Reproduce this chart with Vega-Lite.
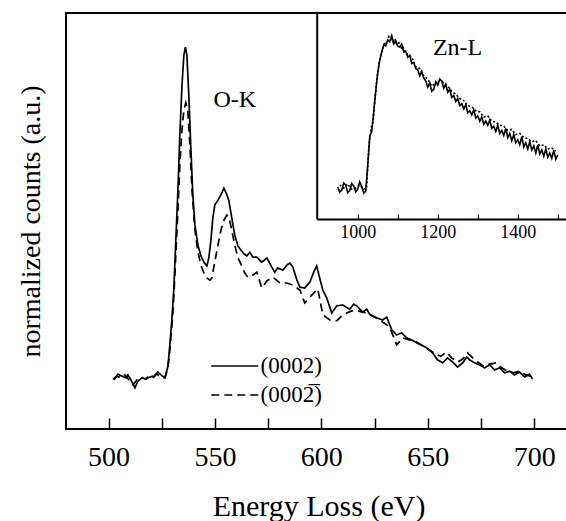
{
  "$schema": "https://vega.github.io/schema/vega-lite/v6.json",
  "width": 505,
  "height": 416,
  "autosize": {"type": "none"},
  "padding": {"left": 66, "top": 13, "right": 0, "bottom": 92},
  "background": "white",
  "config": {
    "font": "Liberation Serif",
    "view": {"stroke": "black", "strokeWidth": 2},
    "axis": {
      "grid": false,
      "domainColor": "black",
      "tickColor": "black",
      "labelColor": "black",
      "titleColor": "black",
      "labelFont": "Liberation Serif",
      "titleFont": "Liberation Serif",
      "titleFontWeight": "normal"
    },
    "legend": {
      "orient": "none",
      "legendX": 155.75,
      "legendY": 340,
      "padding": 0,
      "rowPadding": 4,
      "symbolType": "M-2,0H2",
      "symbolSize": 552,
      "symbolStrokeWidth": 1.6,
      "symbolStrokeColor": "black",
      "symbolFillColor": "transparent",
      "labelFont": "Liberation Serif",
      "labelFontSize": 23,
      "labelColor": "black",
      "labelOffset": 12.75
    }
  },
  "datasets": {
    "main": [
      {"E": 502.5, "v": 11.8, "s": "(0002)"},
      {"E": 504.4, "v": 13.2, "s": "(0002)"},
      {"E": 506.3, "v": 12.7, "s": "(0002)"},
      {"E": 508.2, "v": 12.3, "s": "(0002)"},
      {"E": 509.1, "v": 13.0, "s": "(0002)"},
      {"E": 510.5, "v": 11.8, "s": "(0002)"},
      {"E": 512.4, "v": 9.9, "s": "(0002)"},
      {"E": 513.8, "v": 11.5, "s": "(0002)"},
      {"E": 515.7, "v": 12.3, "s": "(0002)"},
      {"E": 517.6, "v": 12.0, "s": "(0002)"},
      {"E": 519.4, "v": 12.5, "s": "(0002)"},
      {"E": 521.3, "v": 12.7, "s": "(0002)"},
      {"E": 523.2, "v": 13.7, "s": "(0002)"},
      {"E": 524.6, "v": 13.0, "s": "(0002)"},
      {"E": 526.5, "v": 12.3, "s": "(0002)"},
      {"E": 527.9, "v": 15.1, "s": "(0002)"},
      {"E": 528.8, "v": 20.2, "s": "(0002)"},
      {"E": 529.8, "v": 26.7, "s": "(0002)"},
      {"E": 530.7, "v": 33.9, "s": "(0002)"},
      {"E": 531.6, "v": 45.4, "s": "(0002)"},
      {"E": 532.6, "v": 57.5, "s": "(0002)"},
      {"E": 533.5, "v": 70.7, "s": "(0002)"},
      {"E": 534.5, "v": 82.7, "s": "(0002)"},
      {"E": 535.4, "v": 89.9, "s": "(0002)"},
      {"E": 536.1, "v": 91.8, "s": "(0002)"},
      {"E": 536.8, "v": 89.9, "s": "(0002)"},
      {"E": 537.7, "v": 80.3, "s": "(0002)"},
      {"E": 538.7, "v": 67.1, "s": "(0002)"},
      {"E": 539.6, "v": 56.3, "s": "(0002)"},
      {"E": 540.6, "v": 49.0, "s": "(0002)"},
      {"E": 542.0, "v": 44.2, "s": "(0002)"},
      {"E": 543.4, "v": 41.6, "s": "(0002)"},
      {"E": 544.8, "v": 40.1, "s": "(0002)"},
      {"E": 546.2, "v": 39.2, "s": "(0002)"},
      {"E": 547.1, "v": 41.1, "s": "(0002)"},
      {"E": 548.1, "v": 45.4, "s": "(0002)"},
      {"E": 549.0, "v": 50.7, "s": "(0002)"},
      {"E": 549.9, "v": 53.8, "s": "(0002)"},
      {"E": 551.4, "v": 55.0, "s": "(0002)"},
      {"E": 552.8, "v": 56.3, "s": "(0002)"},
      {"E": 554.2, "v": 57.9, "s": "(0002)"},
      {"E": 555.6, "v": 56.3, "s": "(0002)"},
      {"E": 556.5, "v": 55.0, "s": "(0002)"},
      {"E": 557.9, "v": 50.7, "s": "(0002)"},
      {"E": 559.3, "v": 46.6, "s": "(0002)"},
      {"E": 560.8, "v": 44.0, "s": "(0002)"},
      {"E": 562.2, "v": 43.0, "s": "(0002)"},
      {"E": 563.6, "v": 42.1, "s": "(0002)"},
      {"E": 565.0, "v": 41.6, "s": "(0002)"},
      {"E": 566.4, "v": 42.5, "s": "(0002)"},
      {"E": 567.8, "v": 41.3, "s": "(0002)"},
      {"E": 569.7, "v": 41.3, "s": "(0002)"},
      {"E": 572.0, "v": 40.1, "s": "(0002)"},
      {"E": 574.4, "v": 41.1, "s": "(0002)"},
      {"E": 576.7, "v": 38.9, "s": "(0002)"},
      {"E": 578.1, "v": 37.7, "s": "(0002)"},
      {"E": 579.5, "v": 38.7, "s": "(0002)"},
      {"E": 581.9, "v": 38.2, "s": "(0002)"},
      {"E": 583.8, "v": 39.4, "s": "(0002)"},
      {"E": 585.2, "v": 39.9, "s": "(0002)"},
      {"E": 586.6, "v": 38.9, "s": "(0002)"},
      {"E": 588.5, "v": 35.8, "s": "(0002)"},
      {"E": 589.9, "v": 34.1, "s": "(0002)"},
      {"E": 592.2, "v": 33.9, "s": "(0002)"},
      {"E": 594.6, "v": 35.3, "s": "(0002)"},
      {"E": 596.4, "v": 37.7, "s": "(0002)"},
      {"E": 597.8, "v": 39.2, "s": "(0002)"},
      {"E": 599.2, "v": 36.3, "s": "(0002)"},
      {"E": 600.7, "v": 33.4, "s": "(0002)"},
      {"E": 602.5, "v": 31.5, "s": "(0002)"},
      {"E": 604.9, "v": 27.9, "s": "(0002)"},
      {"E": 607.2, "v": 29.6, "s": "(0002)"},
      {"E": 610.0, "v": 29.8, "s": "(0002)"},
      {"E": 613.3, "v": 28.8, "s": "(0002)"},
      {"E": 615.2, "v": 30.0, "s": "(0002)"},
      {"E": 616.6, "v": 29.6, "s": "(0002)"},
      {"E": 619.4, "v": 28.1, "s": "(0002)"},
      {"E": 621.3, "v": 28.8, "s": "(0002)"},
      {"E": 622.7, "v": 27.6, "s": "(0002)"},
      {"E": 626.0, "v": 26.7, "s": "(0002)"},
      {"E": 628.8, "v": 26.2, "s": "(0002)"},
      {"E": 630.7, "v": 26.9, "s": "(0002)"},
      {"E": 633.1, "v": 23.8, "s": "(0002)"},
      {"E": 635.4, "v": 22.6, "s": "(0002)"},
      {"E": 637.7, "v": 23.1, "s": "(0002)"},
      {"E": 640.1, "v": 21.9, "s": "(0002)"},
      {"E": 642.4, "v": 21.4, "s": "(0002)"},
      {"E": 644.8, "v": 20.7, "s": "(0002)"},
      {"E": 647.1, "v": 20.2, "s": "(0002)"},
      {"E": 649.5, "v": 19.5, "s": "(0002)"},
      {"E": 652.3, "v": 18.3, "s": "(0002)"},
      {"E": 654.6, "v": 16.6, "s": "(0002)"},
      {"E": 657.0, "v": 15.9, "s": "(0002)"},
      {"E": 659.3, "v": 17.1, "s": "(0002)"},
      {"E": 661.7, "v": 16.1, "s": "(0002)"},
      {"E": 664.0, "v": 14.9, "s": "(0002)"},
      {"E": 666.4, "v": 15.9, "s": "(0002)"},
      {"E": 668.3, "v": 17.3, "s": "(0002)"},
      {"E": 669.7, "v": 16.6, "s": "(0002)"},
      {"E": 672.0, "v": 15.9, "s": "(0002)"},
      {"E": 674.4, "v": 15.4, "s": "(0002)"},
      {"E": 676.7, "v": 14.7, "s": "(0002)"},
      {"E": 679.1, "v": 15.4, "s": "(0002)"},
      {"E": 681.4, "v": 14.2, "s": "(0002)"},
      {"E": 683.8, "v": 14.7, "s": "(0002)"},
      {"E": 686.1, "v": 13.5, "s": "(0002)"},
      {"E": 688.5, "v": 13.9, "s": "(0002)"},
      {"E": 690.8, "v": 13.0, "s": "(0002)"},
      {"E": 693.1, "v": 13.7, "s": "(0002)"},
      {"E": 695.5, "v": 12.5, "s": "(0002)"},
      {"E": 697.8, "v": 13.2, "s": "(0002)"},
      {"E": 699.2, "v": 12.0, "s": "(0002)"},
      {"E": 502.1, "v": 12.0, "s": "(0002\u0305)"},
      {"E": 503.9, "v": 12.7, "s": "(0002\u0305)"},
      {"E": 505.8, "v": 12.3, "s": "(0002\u0305)"},
      {"E": 507.7, "v": 13.0, "s": "(0002\u0305)"},
      {"E": 509.6, "v": 11.8, "s": "(0002\u0305)"},
      {"E": 511.5, "v": 10.6, "s": "(0002\u0305)"},
      {"E": 513.3, "v": 11.8, "s": "(0002\u0305)"},
      {"E": 515.2, "v": 12.5, "s": "(0002\u0305)"},
      {"E": 517.1, "v": 12.0, "s": "(0002\u0305)"},
      {"E": 519.0, "v": 12.7, "s": "(0002\u0305)"},
      {"E": 520.8, "v": 12.3, "s": "(0002\u0305)"},
      {"E": 522.7, "v": 13.2, "s": "(0002\u0305)"},
      {"E": 524.6, "v": 12.5, "s": "(0002\u0305)"},
      {"E": 526.5, "v": 12.3, "s": "(0002\u0305)"},
      {"E": 527.9, "v": 14.7, "s": "(0002\u0305)"},
      {"E": 528.8, "v": 19.0, "s": "(0002\u0305)"},
      {"E": 529.8, "v": 25.0, "s": "(0002\u0305)"},
      {"E": 530.7, "v": 32.2, "s": "(0002\u0305)"},
      {"E": 531.6, "v": 41.8, "s": "(0002\u0305)"},
      {"E": 532.6, "v": 52.6, "s": "(0002\u0305)"},
      {"E": 533.5, "v": 63.5, "s": "(0002\u0305)"},
      {"E": 534.5, "v": 71.9, "s": "(0002\u0305)"},
      {"E": 535.4, "v": 76.7, "s": "(0002\u0305)"},
      {"E": 536.3, "v": 78.4, "s": "(0002\u0305)"},
      {"E": 537.2, "v": 76.7, "s": "(0002\u0305)"},
      {"E": 538.2, "v": 68.3, "s": "(0002\u0305)"},
      {"E": 539.2, "v": 57.5, "s": "(0002\u0305)"},
      {"E": 540.6, "v": 47.8, "s": "(0002\u0305)"},
      {"E": 542.0, "v": 42.5, "s": "(0002\u0305)"},
      {"E": 543.4, "v": 39.4, "s": "(0002\u0305)"},
      {"E": 544.8, "v": 37.5, "s": "(0002\u0305)"},
      {"E": 546.2, "v": 36.3, "s": "(0002\u0305)"},
      {"E": 547.6, "v": 35.8, "s": "(0002\u0305)"},
      {"E": 548.5, "v": 36.3, "s": "(0002\u0305)"},
      {"E": 549.9, "v": 40.1, "s": "(0002\u0305)"},
      {"E": 551.4, "v": 44.2, "s": "(0002\u0305)"},
      {"E": 552.8, "v": 47.8, "s": "(0002\u0305)"},
      {"E": 554.2, "v": 50.2, "s": "(0002\u0305)"},
      {"E": 555.6, "v": 51.4, "s": "(0002\u0305)"},
      {"E": 556.5, "v": 51.0, "s": "(0002\u0305)"},
      {"E": 557.9, "v": 47.8, "s": "(0002\u0305)"},
      {"E": 559.3, "v": 44.2, "s": "(0002\u0305)"},
      {"E": 560.8, "v": 41.1, "s": "(0002\u0305)"},
      {"E": 562.6, "v": 39.2, "s": "(0002\u0305)"},
      {"E": 564.0, "v": 37.5, "s": "(0002\u0305)"},
      {"E": 565.4, "v": 36.5, "s": "(0002\u0305)"},
      {"E": 567.3, "v": 36.8, "s": "(0002\u0305)"},
      {"E": 569.7, "v": 37.7, "s": "(0002\u0305)"},
      {"E": 572.0, "v": 33.9, "s": "(0002\u0305)"},
      {"E": 574.4, "v": 35.6, "s": "(0002\u0305)"},
      {"E": 577.2, "v": 36.5, "s": "(0002\u0305)"},
      {"E": 580.5, "v": 35.1, "s": "(0002\u0305)"},
      {"E": 583.8, "v": 35.1, "s": "(0002\u0305)"},
      {"E": 586.6, "v": 34.6, "s": "(0002\u0305)"},
      {"E": 589.9, "v": 33.4, "s": "(0002\u0305)"},
      {"E": 592.2, "v": 30.3, "s": "(0002\u0305)"},
      {"E": 595.5, "v": 32.2, "s": "(0002\u0305)"},
      {"E": 598.3, "v": 33.7, "s": "(0002\u0305)"},
      {"E": 600.7, "v": 27.4, "s": "(0002\u0305)"},
      {"E": 604.0, "v": 26.2, "s": "(0002\u0305)"},
      {"E": 607.2, "v": 26.0, "s": "(0002\u0305)"},
      {"E": 609.6, "v": 27.2, "s": "(0002\u0305)"},
      {"E": 611.9, "v": 27.9, "s": "(0002\u0305)"},
      {"E": 614.3, "v": 28.4, "s": "(0002\u0305)"},
      {"E": 616.6, "v": 28.6, "s": "(0002\u0305)"},
      {"E": 619.0, "v": 28.1, "s": "(0002\u0305)"},
      {"E": 621.3, "v": 27.9, "s": "(0002\u0305)"},
      {"E": 623.7, "v": 27.2, "s": "(0002\u0305)"},
      {"E": 626.0, "v": 26.7, "s": "(0002\u0305)"},
      {"E": 628.8, "v": 25.7, "s": "(0002\u0305)"},
      {"E": 632.1, "v": 24.5, "s": "(0002\u0305)"},
      {"E": 635.4, "v": 20.2, "s": "(0002\u0305)"},
      {"E": 638.2, "v": 21.9, "s": "(0002\u0305)"},
      {"E": 641.5, "v": 21.4, "s": "(0002\u0305)"},
      {"E": 644.8, "v": 20.9, "s": "(0002\u0305)"},
      {"E": 648.1, "v": 19.7, "s": "(0002\u0305)"},
      {"E": 650.9, "v": 19.0, "s": "(0002\u0305)"},
      {"E": 653.7, "v": 18.0, "s": "(0002\u0305)"},
      {"E": 656.1, "v": 17.5, "s": "(0002\u0305)"},
      {"E": 658.9, "v": 18.5, "s": "(0002\u0305)"},
      {"E": 661.2, "v": 17.1, "s": "(0002\u0305)"},
      {"E": 664.0, "v": 16.1, "s": "(0002\u0305)"},
      {"E": 666.4, "v": 16.8, "s": "(0002\u0305)"},
      {"E": 668.7, "v": 18.3, "s": "(0002\u0305)"},
      {"E": 671.1, "v": 17.1, "s": "(0002\u0305)"},
      {"E": 673.4, "v": 16.1, "s": "(0002\u0305)"},
      {"E": 676.2, "v": 15.1, "s": "(0002\u0305)"},
      {"E": 679.1, "v": 15.6, "s": "(0002\u0305)"},
      {"E": 682.3, "v": 15.9, "s": "(0002\u0305)"},
      {"E": 684.7, "v": 14.7, "s": "(0002\u0305)"},
      {"E": 687.5, "v": 13.9, "s": "(0002\u0305)"},
      {"E": 690.3, "v": 13.5, "s": "(0002\u0305)"},
      {"E": 693.1, "v": 13.9, "s": "(0002\u0305)"},
      {"E": 696.0, "v": 13.0, "s": "(0002\u0305)"},
      {"E": 698.3, "v": 12.7, "s": "(0002\u0305)"}
    ],
    "inset": [
      {"E": 950, "v": 15.5, "s": "a"}, {"E": 955, "v": 13.0, "s": "a"}, {"E": 960, "v": 14.0, "s": "a"}, {"E": 965, "v": 17.5, "s": "a"}, {"E": 970, "v": 16.5, "s": "a"},
      {"E": 975, "v": 12.8, "s": "a"}, {"E": 980, "v": 13.8, "s": "a"}, {"E": 985, "v": 17.2, "s": "a"}, {"E": 990, "v": 16.0, "s": "a"}, {"E": 995, "v": 13.2, "s": "a"}, {"E": 1000, "v": 14.5, "s": "a"},
      {"E": 1005, "v": 18.0, "s": "a"}, {"E": 1010, "v": 15.8, "s": "a"}, {"E": 1015, "v": 12.5, "s": "a"}, {"E": 1020, "v": 13.5, "s": "a"}, {"E": 1025, "v": 26, "s": "a"},
      {"E": 1030, "v": 40, "s": "a"}, {"E": 1035, "v": 42.5, "s": "a"}, {"E": 1040, "v": 52, "s": "a"},
      {"E": 1045, "v": 62, "s": "a"}, {"E": 1050, "v": 71, "s": "a"}, {"E": 1055, "v": 77, "s": "a"},
      {"E": 1060, "v": 81, "s": "a"}, {"E": 1065, "v": 84.5, "s": "a"}, {"E": 1070, "v": 84, "s": "a"},
      {"E": 1075, "v": 87, "s": "a"}, {"E": 1080, "v": 86, "s": "a"}, {"E": 1085, "v": 89, "s": "a"},
      {"E": 1090, "v": 85, "s": "a"}, {"E": 1095, "v": 86.5, "s": "a"}, {"E": 1100, "v": 84, "s": "a"},
      {"E": 1105, "v": 83.5, "s": "a"}, {"E": 1110, "v": 85, "s": "a"}, {"E": 1115, "v": 81, "s": "a"},
      {"E": 1120, "v": 81.5, "s": "a"}, {"E": 1125, "v": 78.5, "s": "a"}, {"E": 1130, "v": 79.5, "s": "a"}, {"E": 1135, "v": 75.5, "s": "a"}, {"E": 1140, "v": 76, "s": "a"},
      {"E": 1145, "v": 73.0, "s": "a"}, {"E": 1150, "v": 72.5, "s": "a"}, {"E": 1155, "v": 69.5, "s": "a"}, {"E": 1160, "v": 71.5, "s": "a"}, {"E": 1165, "v": 68.5, "s": "a"}, {"E": 1170, "v": 67, "s": "a"},
      {"E": 1175, "v": 64.0, "s": "a"}, {"E": 1180, "v": 66, "s": "a"}, {"E": 1185, "v": 62.0, "s": "a"}, {"E": 1190, "v": 63, "s": "a"}, {"E": 1195, "v": 66.5, "s": "a"}, {"E": 1200, "v": 65, "s": "a"},
      {"E": 1205, "v": 68.0, "s": "a"}, {"E": 1210, "v": 67, "s": "a"}, {"E": 1215, "v": 63.5, "s": "a"}, {"E": 1220, "v": 65.5, "s": "a"}, {"E": 1225, "v": 61.5, "s": "a"}, {"E": 1230, "v": 63, "s": "a"},
      {"E": 1235, "v": 59.0, "s": "a"}, {"E": 1240, "v": 60, "s": "a"}, {"E": 1245, "v": 57.0, "s": "a"}, {"E": 1250, "v": 58.5, "s": "a"}, {"E": 1255, "v": 55.0, "s": "a"}, {"E": 1260, "v": 56, "s": "a"},
      {"E": 1265, "v": 53.5, "s": "a"}, {"E": 1270, "v": 55.5, "s": "a"}, {"E": 1275, "v": 51.5, "s": "a"}, {"E": 1280, "v": 52.5, "s": "a"}, {"E": 1285, "v": 50.5, "s": "a"}, {"E": 1290, "v": 53, "s": "a"},
      {"E": 1295, "v": 49.0, "s": "a"}, {"E": 1300, "v": 50, "s": "a"}, {"E": 1305, "v": 47.5, "s": "a"}, {"E": 1310, "v": 49.5, "s": "a"}, {"E": 1315, "v": 46.0, "s": "a"}, {"E": 1320, "v": 47.5, "s": "a"},
      {"E": 1325, "v": 45.5, "s": "a"}, {"E": 1330, "v": 48, "s": "a"}, {"E": 1335, "v": 44.0, "s": "a"}, {"E": 1340, "v": 45, "s": "a"}, {"E": 1345, "v": 42.5, "s": "a"}, {"E": 1350, "v": 45.5, "s": "a"},
      {"E": 1355, "v": 41.5, "s": "a"}, {"E": 1360, "v": 43, "s": "a"}, {"E": 1365, "v": 40.5, "s": "a"}, {"E": 1370, "v": 44, "s": "a"}, {"E": 1375, "v": 39.5, "s": "a"}, {"E": 1380, "v": 41.5, "s": "a"},
      {"E": 1385, "v": 38.0, "s": "a"}, {"E": 1390, "v": 41, "s": "a"}, {"E": 1395, "v": 37.0, "s": "a"}, {"E": 1400, "v": 38.5, "s": "a"}, {"E": 1405, "v": 36.0, "s": "a"}, {"E": 1410, "v": 40, "s": "a"},
      {"E": 1415, "v": 35.0, "s": "a"}, {"E": 1420, "v": 37, "s": "a"}, {"E": 1425, "v": 34.0, "s": "a"}, {"E": 1430, "v": 37.5, "s": "a"}, {"E": 1435, "v": 33.5, "s": "a"}, {"E": 1440, "v": 35.5, "s": "a"},
      {"E": 1445, "v": 32.0, "s": "a"}, {"E": 1450, "v": 36, "s": "a"}, {"E": 1455, "v": 31.5, "s": "a"}, {"E": 1460, "v": 33.5, "s": "a"}, {"E": 1465, "v": 30.5, "s": "a"}, {"E": 1470, "v": 34, "s": "a"},
      {"E": 1475, "v": 30.0, "s": "a"}, {"E": 1480, "v": 32, "s": "a"}, {"E": 1485, "v": 29.5, "s": "a"}, {"E": 1490, "v": 33.5, "s": "a"}, {"E": 1495, "v": 29.0, "s": "a"}, {"E": 1500, "v": 31, "s": "a"},
      {"E": 955, "v": 16.5, "s": "b"}, {"E": 965, "v": 15, "s": "b"}, {"E": 975, "v": 17, "s": "b"},
      {"E": 985, "v": 14.5, "s": "b"}, {"E": 995, "v": 15, "s": "b"}, {"E": 1005, "v": 16.5, "s": "b"},
      {"E": 1015, "v": 14.5, "s": "b"}, {"E": 1022, "v": 15, "s": "b"}, {"E": 1028, "v": 35, "s": "b"},
      {"E": 1033, "v": 44, "s": "b"}, {"E": 1038, "v": 47, "s": "b"}, {"E": 1043, "v": 58, "s": "b"},
      {"E": 1048, "v": 68, "s": "b"}, {"E": 1053, "v": 75, "s": "b"}, {"E": 1058, "v": 80, "s": "b"},
      {"E": 1063, "v": 83, "s": "b"}, {"E": 1068, "v": 86, "s": "b"}, {"E": 1073, "v": 85, "s": "b"},
      {"E": 1078, "v": 88.5, "s": "b"}, {"E": 1083, "v": 87, "s": "b"}, {"E": 1088, "v": 86, "s": "b"},
      {"E": 1093, "v": 87.5, "s": "b"}, {"E": 1098, "v": 84.5, "s": "b"}, {"E": 1103, "v": 85.5, "s": "b"},
      {"E": 1108, "v": 82.5, "s": "b"}, {"E": 1113, "v": 84, "s": "b"}, {"E": 1118, "v": 80.5, "s": "b"},
      {"E": 1125, "v": 80, "s": "b"}, {"E": 1135, "v": 78.5, "s": "b"}, {"E": 1145, "v": 74, "s": "b"},
      {"E": 1155, "v": 73, "s": "b"}, {"E": 1165, "v": 69.5, "s": "b"}, {"E": 1175, "v": 68, "s": "b"},
      {"E": 1185, "v": 64.5, "s": "b"}, {"E": 1195, "v": 66, "s": "b"}, {"E": 1205, "v": 67.5, "s": "b"},
      {"E": 1215, "v": 66, "s": "b"}, {"E": 1225, "v": 64.5, "s": "b"}, {"E": 1235, "v": 62, "s": "b"},
      {"E": 1245, "v": 60.5, "s": "b"}, {"E": 1255, "v": 58.5, "s": "b"}, {"E": 1265, "v": 57.5, "s": "b"},
      {"E": 1275, "v": 55, "s": "b"}, {"E": 1285, "v": 54.5, "s": "b"}, {"E": 1295, "v": 52.5, "s": "b"},
      {"E": 1305, "v": 52, "s": "b"}, {"E": 1315, "v": 49.5, "s": "b"}, {"E": 1325, "v": 50, "s": "b"},
      {"E": 1335, "v": 47.5, "s": "b"}, {"E": 1345, "v": 47, "s": "b"}, {"E": 1355, "v": 45.5, "s": "b"},
      {"E": 1365, "v": 45, "s": "b"}, {"E": 1375, "v": 43, "s": "b"}, {"E": 1385, "v": 43.5, "s": "b"},
      {"E": 1395, "v": 41, "s": "b"}, {"E": 1405, "v": 41.5, "s": "b"}, {"E": 1415, "v": 39.5, "s": "b"},
      {"E": 1425, "v": 39, "s": "b"}, {"E": 1435, "v": 37.5, "s": "b"}, {"E": 1445, "v": 38, "s": "b"},
      {"E": 1455, "v": 35.5, "s": "b"}, {"E": 1465, "v": 36, "s": "b"}, {"E": 1475, "v": 34, "s": "b"},
      {"E": 1485, "v": 34.5, "s": "b"}, {"E": 1495, "v": 33, "s": "b"}
    ]
  },
  "layer": [
    {
      "layer": [
        {
          "data": {"name": "main"},
          "mark": {"type": "line", "color": "black", "strokeWidth": 1.7},
          "encoding": {
            "x": {
              "field": "E", "type": "quantitative",
              "scale": {"domain": [480, 717.3], "nice": false, "zero": false},
              "axis": {
                "orient": "bottom",
                "values": [500, 525, 550, 575, 600, 625, 650, 675, 700],
                "labelExpr": "datum.value % 50 === 0 ? datum.label : ''",
                "domain": false,
                "ticks": true,
                "tickSize": -11,
                "tickWidth": 1.5,
                "labelFontSize": 28,
                "labelPadding": 25,
                "labelFlush": false,
                "labelOverlap": false,
                "title": "Energy Loss (eV)",
                "titleFontSize": 30,
                "titlePadding": 20,
                "encode": {"ticks": {"update": {"y2": {"signal": "datum.value % 50 === 0 ? -11 : -6"}}}}
              }
            },
            "y": {
              "field": "v", "type": "quantitative",
              "scale": {"domain": [0, 100], "nice": false, "zero": false},
              "axis": {
                "orient": "left",
                "domain": false, "ticks": false, "labels": false,
                "title": "normalized counts (a.u.)",
                "titleFontSize": 28,
                "titlePadding": 21
              }
            },
            "strokeDash": {
              "field": "s", "type": "nominal",
              "scale": {"domain": ["(0002)", "(0002\u0305)"], "range": [[1, 0], [8, 5]]},
              "legend": {"title": null}
            }
          }
        },
        {
          "data": {"values": [{"label": "O-K"}]},
          "mark": {"type": "text", "font": "Liberation Serif", "fontSize": 24, "color": "black", "align": "center", "baseline": "middle"},
          "encoding": {
            "x": {"datum": 559.3, "type": "quantitative"},
            "y": {"datum": 79, "type": "quantitative"},
            "text": {"field": "label"}
          }
        }
      ]
    },
    {
      "layer": [
        {
          "data": {"name": "inset"},
          "mark": {"type": "line", "color": "black", "strokeWidth": 1.6},
          "encoding": {
            "x": {
              "field": "E", "type": "quantitative",
              "scale": {"domain": [897.5, 1533], "range": [250.7, 505], "nice": false, "zero": false},
              "axis": {
                "orient": "bottom",
                "offset": -210,
                "values": [1000, 1100, 1200, 1300, 1400, 1500],
                "format": "d",
                "labelExpr": "datum.value % 200 === 0 ? datum.label : ''",
                "domain": true,
                "domainWidth": 2,
                "ticks": true,
                "tickSize": -5,
                "tickWidth": 1.2,
                "labelFontSize": 18,
                "labelPadding": 9,
                "labelFlush": false,
                "labelOverlap": false,
                "title": null,
                "encode": {"ticks": {"update": {"y2": {"signal": "datum.value % 200 === 0 ? -5 : -3"}}}}
              }
            },
            "y": {
              "field": "v", "type": "quantitative",
              "scale": {"domain": [0, 100], "range": [206, 0], "nice": false, "zero": false},
              "axis": {
                "orient": "left",
                "offset": -250.7,
                "domain": true, "domainWidth": 2,
                "ticks": false, "labels": false, "title": null
              }
            },
            "strokeDash": {
              "field": "s", "type": "nominal",
              "scale": {"domain": ["a", "b"], "range": [[1, 0], [2, 2]]},
              "legend": null
            }
          }
        },
        {
          "data": {"values": [{"label": "Zn-L"}]},
          "mark": {"type": "text", "font": "Liberation Serif", "fontSize": 24, "color": "black", "align": "center", "baseline": "middle"},
          "encoding": {
            "x": {"datum": 1249.5, "type": "quantitative"},
            "y": {"datum": 83, "type": "quantitative"},
            "text": {"field": "label"}
          }
        }
      ]
    }
  ],
  "resolve": {"scale": {"x": "independent", "y": "independent", "strokeDash": "independent"}}
}
